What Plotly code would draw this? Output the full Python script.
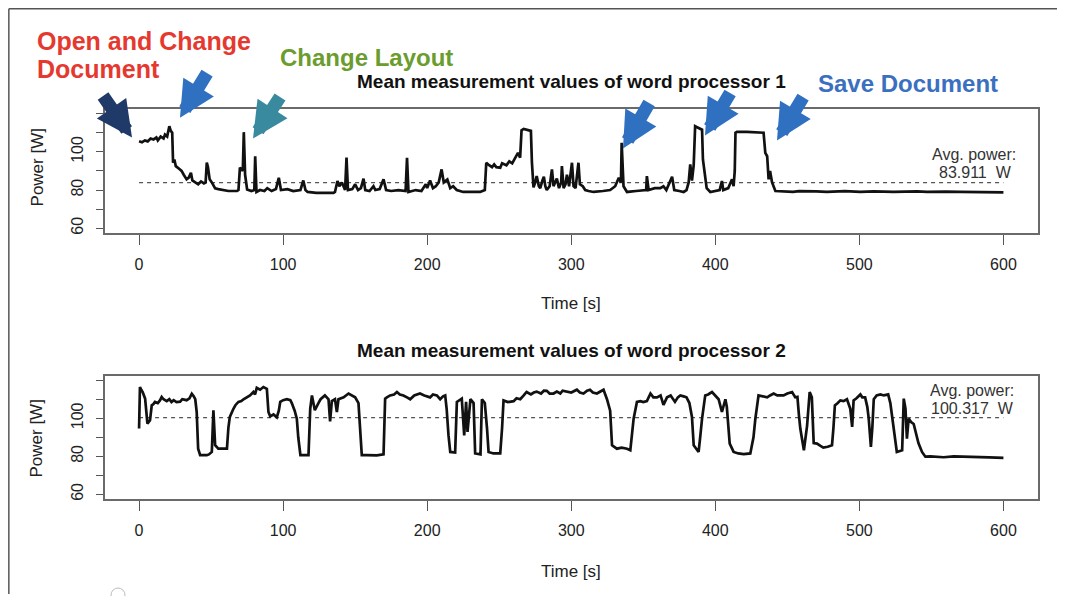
import plotly.graph_objects as go

# page has an 8px body margin, so the figure is shifted by 8px
W, H = 1057, 588
OFF = 8

# ---------------- data ----------------
t1 = [0, 2, 4, 6, 8, 10, 12, 13, 15, 17, 18, 19.5, 21, 22, 23, 23.6, 24.5, 25.5, 28, 29.5, 31, 33, 34.5,
      36, 37, 39, 41, 43, 45, 46.2, 47, 47.8, 49, 50.5, 52.8, 55, 58.6, 62, 68, 69, 70, 72, 72.7, 73.6,
      75, 78, 80, 80.6, 81.5, 84, 87, 89, 92, 95, 97, 98.5, 103, 107, 112, 114, 115.5, 117, 123, 135,
      136, 137.7, 139, 140.8, 143, 144, 145, 148, 150, 152, 154, 155.8, 157, 160, 162.7, 164, 167,
      169.7, 171.5, 175, 180, 185, 186, 187, 192, 196, 199, 200, 202, 204, 206, 208, 210, 211.5, 214,
      216, 218, 220.5, 225, 236.8, 240, 241, 243, 245, 246.5, 248, 250.7, 252, 255, 257, 259, 260.5,
      263, 264.5, 265.5, 267, 270, 272, 272.7, 273.8, 275, 276, 277.5, 278.5, 280, 281, 282, 283, 285,
      286.6, 287.7, 289, 290, 291.5, 293, 293.5, 294.7, 296, 297, 298.5, 300.5, 301.6, 303, 305, 306,
      308, 309.7, 312, 315.5, 322, 327, 330.5, 333, 334.5, 335, 336.3, 338.7, 345, 350, 352, 352.5,
      353.7, 358, 361.8, 364, 366, 370, 371.5, 375, 378, 380, 381.5, 382.6, 383.8, 385, 386, 387,
      388.4, 390.8, 391.4, 393, 394, 396.5, 400, 403, 404.6, 405.5, 409, 411.6, 412.7, 413.5, 414, 415,
      422, 428, 433.5, 434.7, 436, 437, 438, 439.4, 441.7, 454, 458, 470, 477.5, 490, 500.7, 510,
      523.8, 540, 547, 560, 570, 600]
p1 = [105.5, 105, 106, 105.5, 107, 106.5, 107.5, 106, 108, 107, 109, 108, 113.4, 111, 110, 94.3, 96,
      92.5, 91, 90, 88, 85.6, 86.5, 89, 85, 84, 83, 84.5, 83.5, 84, 94.4, 92, 85.6, 84, 80.9, 80.5, 80,
      79.5, 79.5, 80, 91.7, 90, 110.3, 88, 80.3, 79.5, 80, 97.7, 79, 80, 79.5, 81, 79.5, 80.5, 86.4, 80,
      80.5, 79.5, 80, 85, 80, 79, 78.5, 78.5, 79, 84.7, 82, 84, 80, 97, 80, 80.5, 83, 80, 81, 86, 80,
      79.5, 82, 80, 80.5, 85.6, 80, 79.5, 80, 79.5, 96.9, 79, 80, 79.5, 83, 81, 85, 81, 82, 84, 90.8,
      84, 85.5, 81, 82, 80, 79, 79, 80, 94.3, 93, 92, 93.4, 92, 91.7, 94, 93, 95, 94, 96, 99.5, 97,
      111.3, 112, 111.5, 111, 94.4, 81.4, 84, 87.3, 82, 81, 85, 87, 82, 80, 82, 90.8, 82, 84, 86, 81,
      84, 92.5, 81, 83, 88, 82, 94.3, 82, 81, 94.3, 83, 82, 80, 79.5, 79, 79.5, 80, 82, 86.4, 84,
      104.7, 82, 79, 79.5, 80, 80, 87.3, 80, 81, 81, 82, 80, 87, 80, 79.5, 79, 80, 84, 93.4, 85, 93,
      113.4, 113, 112.5, 111.6, 96, 85.6, 81, 79, 79.5, 80, 84.7, 80, 81, 85.6, 82, 90, 110, 110.5,
      110.5, 110.2, 110, 99.5, 97.7, 85.6, 90, 84, 79.5, 79, 79.4, 79.3, 79, 79.4, 79, 79.3, 79, 79.3,
      79, 79.2, 79, 78.8]

t2 = [0, 0.6, 1.5, 2.5, 4.2, 5, 5.8, 7.6, 8.8, 10, 11, 13, 14.6, 15.7, 17, 19.2, 21, 22.5, 24, 26,
      28.5, 30, 33, 35, 36.6, 38, 39, 40, 41, 42.4, 47, 48.5, 50.5, 51.6, 52.8, 55, 61, 62, 63, 65.5,
      67, 69, 71, 72.5, 75, 77, 79.4, 80.5, 81.7, 84, 86.3, 88.7, 89.8, 91, 93.3, 95.6, 97, 98, 100,
      102.6, 105, 106, 108, 109.5, 110.5, 112, 117.6, 118.8, 120, 122, 124.5, 126, 129, 131.5, 132.6,
      133.8, 136, 137.3, 138.4, 142, 145.4, 148, 150, 152.3, 153.5, 154.6, 158, 165, 169.7, 170.8,
      172, 174.3, 177, 179, 181, 183.5, 186, 188.2, 191, 195, 198, 202, 204, 206.7, 209, 211, 212.5,
      213.5, 214.8, 216, 219.4, 220.6, 224, 225.7, 227, 228, 230, 232.2, 233.3, 237, 238, 240, 241.5,
      242.6, 246, 250.7, 252, 253, 256, 260, 262, 264.6, 267, 269, 272, 274, 276, 279, 281, 283, 285,
      287.7, 290, 292.4, 294, 297, 300, 303.9, 306, 308.5, 311, 313, 315, 317.8, 320, 322.4, 324.8,
      327, 328.3, 331.7, 335, 338.7, 341, 342, 343.3, 345.6, 348, 350, 352.5, 355, 357, 359.5, 362,
      364, 366.5, 369, 371, 372, 374, 375.7, 378, 380, 382, 383.8, 385, 388.4, 389.5, 390.8, 393, 395,
      397.7, 400, 402.3, 404.6, 407, 408, 409, 410, 412.7, 416, 419.7, 424.3, 426.5, 427.8, 430, 433,
      436, 438, 440.5, 443, 447.4, 450, 453.3, 455.5, 457, 458, 459, 461.5, 463.7, 465.5, 467, 468.3,
      470.6, 473, 475, 478, 481, 482, 483, 485, 486.8, 489, 491.4, 493.7, 495, 496, 498, 500.7, 502,
      504, 505.5, 506.5, 508, 509, 510, 512, 514.6, 517, 520, 521.5, 523, 524, 526, 529.7, 530.8, 532,
      533, 534.2, 535.9, 537.7, 539.6, 541, 543.5, 545.8, 549.3, 558.5, 565.5, 579.4, 590, 600]
p2 = [94.6, 116.4, 115, 113.8, 110.3, 104, 97.2, 99, 106.8, 107.5, 108.6, 108, 109.5, 111.2, 110, 109,
      110, 108.5, 109.5, 108.5, 108.7, 110, 109.5, 110.5, 112.9, 111.5, 110, 103.3, 84, 80.6, 80.6, 81,
      82.3, 104.2, 85.8, 84, 84, 95, 100.7, 105, 107, 108.6, 109, 110, 111, 112, 113.8, 112.5, 116, 115,
      116.4, 115.5, 103.3, 101, 102, 100.5, 104, 108.6, 109.5, 110, 109.5, 108, 104, 99.8, 90, 80.6,
      80.6, 105, 112, 104.2, 108, 110, 112, 110, 98.4, 109, 110, 103.3, 110, 111, 113, 112, 111, 108,
      95, 80.6, 80.6, 80.5, 81, 110.3, 111, 112, 112.5, 113.8, 112.5, 112, 111, 110, 112, 113, 112,
      111, 112.5, 112, 110, 111.5, 112, 105, 91, 82.3, 82, 108.6, 110.3, 91, 108.6, 92.8, 110, 108,
      81.5, 81, 110, 108, 95, 82.3, 81.5, 81.5, 95, 109.4, 108.5, 109, 110.5, 110, 112, 113.8, 112.5,
      113.5, 114, 113, 114.5, 114.4, 113, 113, 114, 113, 114.5, 114, 113.5, 115, 113.5, 113, 114.5,
      115, 113.5, 113, 114, 115, 110, 104, 85.8, 84, 84.5, 84, 83.2, 92, 99.8, 108.6, 109, 108.5, 109,
      113, 111, 111, 112, 107, 111, 112, 110, 108.6, 111, 112, 111.5, 111, 108, 100.7, 85.8, 82.3, 90,
      99.8, 112, 112.5, 113.8, 112, 110, 103.3, 110, 106, 95, 86.7, 82.3, 81.5, 81.2, 81.5, 90, 99.8,
      112, 111.5, 111, 112, 113, 112, 112, 113, 113.8, 111, 111.2, 102, 94.6, 83.2, 96, 113.8, 111, 87,
      86.7, 85.5, 84.6, 85, 85.8, 95, 106.8, 108, 109.4, 109, 110, 105, 95.5, 109.4, 110.5, 112.5, 111,
      111, 106, 99.8, 85, 95, 110, 112, 112.5, 112, 112.5, 108, 99, 91.5, 82.3, 83.2, 110.3, 105, 89.3,
      99.8, 98, 97, 91, 87, 82.3, 79.8, 80, 79.5, 80, 79.5, 79.4, 79.2]

avg1 = 83.911
avg2 = 100.317
x_ticks = [0, 100, 200, 300, 400, 500, 600]
y_ticks = [60, 70, 80, 90, 100, 110, 120]
y_ticktext = ["60", "", "80", "", "100", "", ""]
titles = ["Mean measurement values of word processor 1",
          "Mean measurement values of word processor 2"]

# ---------------- helpers ----------------
def px(x):
    return (x - OFF) / W

def py(y):
    return 1 - (y - OFF) / H

FONT = "Liberation Sans, Arial, sans-serif"
LINE = "#111111"
BOX = "#6a6a6a"

fig = go.Figure()
for t, p, avg, xa, ya in [(t1, p1, avg1, "x", "y"), (t2, p2, avg2, "x2", "y2")]:
    fig.add_trace(go.Scatter(x=[0, 600], y=[avg, avg], mode="lines", xaxis=xa, yaxis=ya,
                             line=dict(color="#555555", width=1.2, dash="4px,4px"),
                             hoverinfo="skip", showlegend=False))
    fig.add_trace(go.Scatter(x=t, y=p, mode="lines", xaxis=xa, yaxis=ya,
                             line=dict(color=LINE, width=2.7), showlegend=False))

def xaxis(domain, anchor):
    return dict(domain=domain, anchor=anchor, range=[-24, 624], tickvals=x_ticks,
                ticks="outside", ticklen=10, tickwidth=1, tickcolor="#555",
                showline=True, mirror=True, linecolor=BOX, linewidth=1.5,
                showgrid=False, zeroline=False, ticklabelstandoff=6,
                tickfont=dict(family=FONT, size=16, color="#222"))

def yaxis(domain, anchor):
    return dict(domain=domain, anchor=anchor, range=[57.6, 122.4], tickvals=y_ticks,
                ticktext=y_ticktext, tickangle=-90,
                ticks="outside", ticklen=7, tickwidth=1, tickcolor="#555",
                showline=True, mirror=True, linecolor=BOX, linewidth=1.5,
                showgrid=False, zeroline=False, ticklabelstandoff=6,
                tickfont=dict(family=FONT, size=16, color="#222"))

xd = [px(104.5), px(1038)]
fig.update_layout(
    width=W, height=H, margin=dict(l=0, r=0, t=0, b=0),
    paper_bgcolor="white", plot_bgcolor="white", showlegend=False,
    xaxis=xaxis(xd, "y"),
    yaxis=yaxis([py(233.6), py(109.4)], "x"),
    xaxis2=xaxis(xd, "y2"),
    yaxis2=yaxis([py(500.6), py(376.9)], "x2"),
)

ann = []
def text(x, y, s, size, color, bold=False, xanchor="center", angle=0):
    ann.append(dict(x=px(x), y=py(y), xref="paper", yref="paper", text=f"<b>{s}</b>" if bold else s,
                    showarrow=False, xanchor=xanchor, yanchor="middle", textangle=angle,
                    font=dict(family=FONT, size=size, color=color)))

# titles
text(571, 82, titles[0], 19, "#111", bold=True)
text(571, 352, titles[1], 19, "#111", bold=True)
# axis titles
text(571, 305, "Time [s]", 17, "#222")
text(571, 573, "Time [s]", 17, "#222")
text(37, 168, "Power [W]", 17, "#222", angle=-90)
text(37, 440, "Power [W]", 17, "#222", angle=-90)
# avg power labels
text(974, 155, "Avg. power:", 16, "#333")
text(975, 173, f"{avg1:.3f}\u00a0\u00a0W", 16, "#333")
text(972, 392, "Avg. power:", 16, "#333")
text(972, 410, f"{avg2:.3f}\u00a0\u00a0W", 16, "#333")
# colored labels
text(35, 41.5, "Open and Change", 25, "#e5392f", bold=True, xanchor="left")
text(35, 69.5, "Document", 25, "#e5392f", bold=True, xanchor="left")
text(278, 58, "Change Layout", 24, "#6a9c2e", bold=True, xanchor="left")
text(816, 84, "Save Document", 24, "#3b6fbf", bold=True, xanchor="left")

# block arrows (tail -> tip)
arrows = [((102, 95), (132, 138), "#1f3a68"),
          ((208, 72), (180, 118), "#2f70c0"),
          ((281, 96), (253, 139), "#3a8a9f"),
          ((650, 102), (623, 149), "#2f70c0"),
          ((731, 92), (705, 136), "#2f70c0"),
          ((804, 96), (777, 141), "#2f70c0")]
for (tx, ty), (hx, hy), c in arrows:
    ann.append(dict(x=px(hx), y=py(hy), xref="paper", yref="paper", text="", showarrow=True,
                    ax=tx - hx, ay=ty - hy, arrowhead=2, arrowsize=0.55, arrowwidth=13,
                    arrowcolor=c, standoff=0))

fig.update_layout(annotations=ann)

# outer frame lines (at the page's left/top edge)
fig.add_shape(type="line", xref="paper", yref="paper", x0=0.0008, x1=1, y0=0.9988, y1=0.9988,
              line=dict(color="#555", width=1.5))
fig.add_shape(type="line", xref="paper", yref="paper", x0=0.0008, x1=0.0008, y0=0.9988, y1=0,
              line=dict(color="#555", width=1.5))
# small partial circle at the bottom-left edge
fig.add_shape(type="circle", xref="paper", yref="paper", x0=px(111), x1=px(125), y0=py(604), y1=py(590),
              line=dict(color="#bbbbbb", width=1))

fig.write_html("out.html")
